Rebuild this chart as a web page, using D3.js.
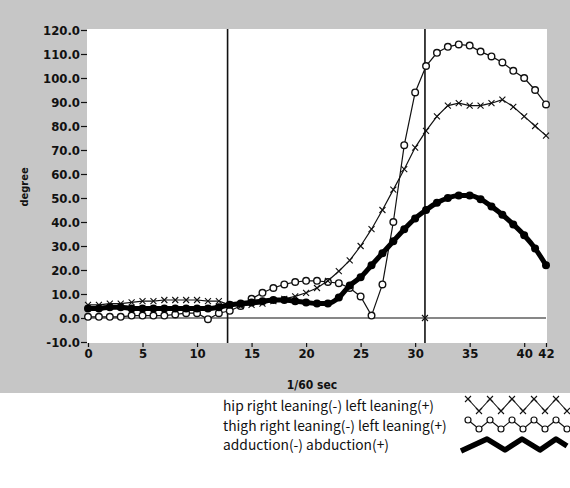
<!DOCTYPE html>
<html>
<head>
<meta charset="utf-8">
<script src="https://cdn.jsdelivr.net/npm/d3@7"></script>
<style>
  html, body { margin: 0; padding: 0; background: #ffffff; }
  svg { display: block; }
</style>
</head>
<body>
<div id="chart"></div>
<script>
// ---------------- data ----------------
const frames = d3.range(0, 43); // 1/60 sec frames 0..42
const hipLeaning = [5.5, 5.5, 6, 6, 6.5, 7, 7, 7.5, 7.5, 7.5, 7.5, 7, 7, 5.5, 5,
  5.5, 6, 7, 8, 9, 10.5, 12.5, 15.5, 19.5, 24, 30, 37, 45, 53.5, 62, 71, 78, 84,
  88.5, 89.5, 88.5, 88.5, 89.5, 91, 88, 84, 80, 76];
const thighLeaning = [0.5, 0.5, 0.5, 0.5, 1, 1, 1, 1, 1.5, 2, 2, -0.5, 2, 3, 5,
  8, 10.5, 12.5, 14, 15, 15.5, 15.5, 15, 14.5, 12.5, 9, 1, 14, 40, 72, 94, 105,
  110.5, 113, 114, 113.5, 111, 109, 106.5, 103, 100, 95, 89];
const abduction = [4, 4, 4.5, 4.5, 4, 4, 4, 4, 4, 4, 4, 4, 4.5, 5.5, 6, 6.5, 7,
  7.5, 7.5, 7, 6.5, 6, 6, 8.5, 13.5, 17, 22, 27, 32, 37, 41.5, 45, 48, 50, 51,
  51, 49.5, 46.5, 43, 39, 34.5, 29, 22];
const seriesNames = ["hip right leaning(-) left leaning(+)",
  "thigh right leaning(-) left leaning(+)", "adduction(-) abduction(+)"];
const xTicks = [0, 5, 10, 15, 20, 25, 30, 35, 40, 42];
const yTicks = [-10, 0, 10, 20, 30, 40, 50, 60, 70, 80, 90, 100, 110, 120];
const eventFrames = [12.8, 30.9];
const xTitle = "1/60 sec";
const yTitle = "degree";

// ---------------- drawing ----------------
const W = 570, H = 488;
const svg = d3.select("#chart").append("svg").attr("width", W).attr("height", H);

const x = d3.scaleLinear().domain([0, 42]).range([88, 546]);
const y = d3.scaleLinear().domain([-10, 120]).range([342, 30]);

const numFont = "'Liberation Sans Narrow', 'DejaVu Sans Condensed', 'Arial Narrow', sans-serif";
const txtFont = "'Noto Sans CJK KR', 'Liberation Sans', sans-serif";

// gray (scanned) background
svg.append("rect").attr("x", 0).attr("y", 0).attr("width", W).attr("height", 393)
  .attr("fill", "#c6c6c6");
// white plot area
svg.append("rect")
  .attr("x", x(0) - 1).attr("y", y(120) - 1)
  .attr("width", x(42) - x(0) + 2).attr("height", y(-10) - y(120) + 2)
  .attr("fill", "#ffffff");

// y axis
const yAxis = svg.append("g").attr("transform", `translate(${x(0) - 1},0)`)
  .call(d3.axisLeft(y).tickValues(yTicks).tickFormat(d => d.toFixed(1)).tickSize(6).tickPadding(1));
yAxis.select(".domain").remove();
yAxis.selectAll("line").attr("stroke", "#111").attr("stroke-width", 1.2);
yAxis.selectAll("text").attr("font-family", numFont).attr("font-size", 13)
  .attr("font-weight", "bold").attr("fill", "#111");

// x axis
const xAxis = svg.append("g").attr("transform", `translate(0,${y(-10) + 1})`)
  .call(d3.axisBottom(x).tickValues(xTicks).tickFormat(d3.format("d")).tickSize(4).tickPadding(2));
xAxis.select(".domain").remove();
xAxis.selectAll("line").attr("stroke", "#111").attr("stroke-width", 1.2);
xAxis.selectAll("text").attr("font-family", numFont).attr("font-size", 13)
  .attr("font-weight", "bold").attr("fill", "#111");

// axis titles
svg.append("text").attr("transform", `translate(28,187) rotate(-90)`)
  .attr("text-anchor", "middle").attr("font-family", numFont).attr("font-size", 11)
  .attr("font-weight", "bold").attr("fill", "#111").text(yTitle);
svg.append("text").attr("x", 312).attr("y", 389)
  .attr("text-anchor", "middle").attr("font-family", numFont).attr("font-size", 12)
  .attr("font-weight", "bold").attr("fill", "#111").text(xTitle);

// zero line & event lines
svg.append("line").attr("x1", x(0)).attr("x2", x(42)).attr("y1", y(0)).attr("y2", y(0))
  .attr("stroke", "#111").attr("stroke-width", 1.2);
svg.selectAll(".evt").data(eventFrames).enter().append("line")
  .attr("x1", d => x(d)).attr("x2", d => x(d))
  .attr("y1", y(120) - 1).attr("y2", y(-10) + 1)
  .attr("stroke", "#111").attr("stroke-width", 1.6);

const line = d3.line().x((d, i) => x(frames[i])).y(d => y(d));

// cross marker helper
function cross(g, cx, cy, s) {
  g.append("path").attr("d", `M${cx - s},${cy - s}L${cx + s},${cy + s}M${cx - s},${cy + s}L${cx + s},${cy - s}`)
    .attr("stroke", "#111").attr("stroke-width", 1.1).attr("fill", "none");
}

// thigh (circles)
svg.append("path").datum(thighLeaning).attr("d", line)
  .attr("fill", "none").attr("stroke", "#111").attr("stroke-width", 1.2);
svg.append("g").selectAll("circle").data(thighLeaning).enter().append("circle")
  .attr("cx", (d, i) => x(frames[i])).attr("cy", d => y(d)).attr("r", 3.3)
  .attr("fill", "#fff").attr("stroke", "#111").attr("stroke-width", 1.4);

// hip (crosses)
svg.append("path").datum(hipLeaning).attr("d", line)
  .attr("fill", "none").attr("stroke", "#111").attr("stroke-width", 1.2);
const hipG = svg.append("g");
hipLeaning.forEach((d, i) => cross(hipG, x(frames[i]), y(d), 3));

// cross at event/zero intersection
cross(svg.append("g"), x(eventFrames[1]), y(0), 3);

// adduction/abduction (thick with dots)
svg.append("path").datum(abduction).attr("d", d3.line().x((d, i) => x(frames[i])).y(d => y(d)).curve(d3.curveMonotoneX))
  .attr("fill", "none").attr("stroke", "#000").attr("stroke-width", 5)
  .attr("stroke-linejoin", "round");
svg.append("g").selectAll("circle").data(abduction).enter().append("circle")
  .attr("cx", (d, i) => x(frames[i])).attr("cy", d => y(d)).attr("r", 4)
  .attr("fill", "#000");

// ---------------- legend ----------------
const legY = [411, 431, 450];
svg.selectAll(".legtxt").data(seriesNames).enter().append("text")
  .attr("x", 223).attr("y", (d, i) => legY[i])
  .attr("font-family", txtFont).attr("font-size", 13.8).attr("fill", "#111")
  .text(d => d);

// legend glyphs: zigzags
function zig(x0, x1, n, yTop, yBot) {
  const pts = [];
  const step = (x1 - x0) / (2 * n);
  for (let k = 0; k <= 2 * n; k++) pts.push([x0 + k * step, k % 2 === 0 ? yBot : yTop]);
  return pts;
}
const hipPts = zig(457, 567, 5, 399, 411).slice(1);
svg.append("path").attr("d", d3.line()(hipPts)).attr("fill", "none")
  .attr("stroke", "#111").attr("stroke-width", 1.1);
const hipLegG = svg.append("g");
hipPts.forEach(p => cross(hipLegG, p[0], p[1], 3));

const thPts = zig(457, 567, 5, 420, 429).slice(1);
svg.append("path").attr("d", d3.line()(thPts)).attr("fill", "none")
  .attr("stroke", "#111").attr("stroke-width", 1.1);
svg.append("g").selectAll("circle").data(thPts).enter().append("circle")
  .attr("cx", p => p[0]).attr("cy", p => p[1]).attr("r", 3)
  .attr("fill", "#fff").attr("stroke", "#111").attr("stroke-width", 1.2);

const adPts = [[461, 451], [487, 439], [505, 450], [522, 439], [540, 450], [556, 439], [567, 446]];
svg.append("path").attr("d", d3.line()(adPts)).attr("fill", "none")
  .attr("stroke", "#000").attr("stroke-width", 5.5).attr("stroke-linejoin", "round");
</script>
</body>
</html>
